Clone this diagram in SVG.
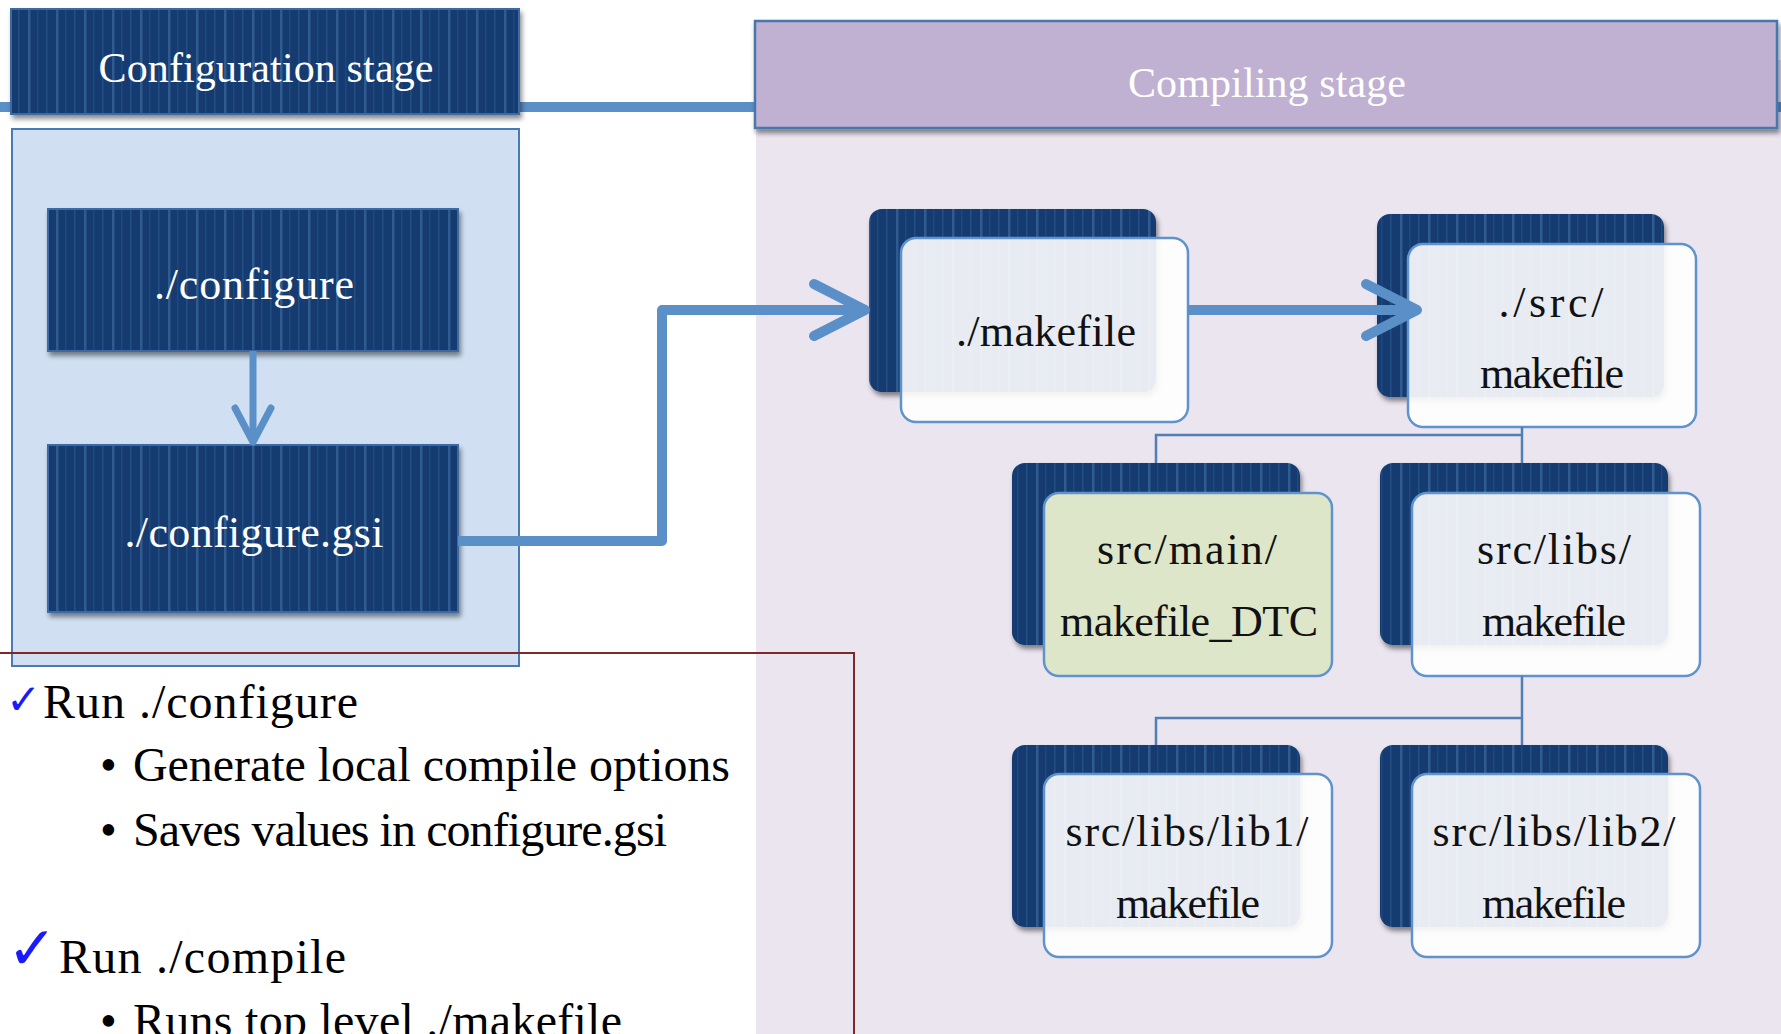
<svg xmlns="http://www.w3.org/2000/svg" width="1781" height="1034" viewBox="0 0 1781 1034">
  <style>
    .hdr { font-family: "Liberation Serif", "Times New Roman", serif; font-size: 42px; fill: #ffffff; text-anchor: middle; }
    .cfg { font-family: "Liberation Serif", "Times New Roman", serif; font-size: 44px; fill: #ffffff; text-anchor: middle; }
    .mk { font-family: "Liberation Serif", "Times New Roman", serif; font-size: 44px; fill: #111111; text-anchor: middle; }
    .note { font-family: "Liberation Serif", "Times New Roman", serif; font-size: 48px; fill: #000000; }
    .tick { font-family: "DejaVu Sans", sans-serif; fill: #1a1aff; }
    .navy { fill: url(#navyStripes); }
    .back { fill: url(#navyStripes); filter: url(#shadow); }
    .front { fill: #ffffff; fill-opacity: 0.9; stroke: #5f93cb; stroke-width: 2.5; }
    .frontGreen { fill: #dee6c9; stroke: #5f93cb; stroke-width: 2.5; }
    .tree { fill: none; stroke: #4f7fb5; stroke-width: 2.5; }
    .flow { fill: none; stroke: #5b8fc7; stroke-width: 10; stroke-linejoin: round; }
  </style>
  <defs>
    <pattern id="navyStripes" patternUnits="userSpaceOnUse" width="28" height="10">
      <rect width="28" height="10" fill="#123a6f"/>
      <rect x="0" width="2.5" height="10" fill="#2f5b90"/>
      <rect x="9" width="1.5" height="10" fill="#1f4a80"/>
      <rect x="18" width="1.5" height="10" fill="#244f84"/>
    </pattern>
    <filter id="shadow" x="-10%" y="-10%" width="125%" height="130%">
      <feDropShadow dx="2" dy="4" stdDeviation="2.5" flood-color="#000000" flood-opacity="0.45"/>
    </filter>
    <marker id="chev" viewBox="-8 -8 70 72" refX="51" refY="28" markerWidth="70" markerHeight="72" markerUnits="userSpaceOnUse" orient="auto">
      <path d="M0,2 L51,28 L0,54" fill="none" stroke="#5b8fc7" stroke-width="10" stroke-linecap="round" stroke-linejoin="round"/>
    </marker>
    <marker id="chevSmall" viewBox="-6 -6 46 52" refX="34" refY="20" markerWidth="46" markerHeight="52" markerUnits="userSpaceOnUse" orient="auto">
      <path d="M0,2 L34,20 L0,38" fill="none" stroke="#5b8fc7" stroke-width="7" stroke-linecap="round" stroke-linejoin="round"/>
    </marker>
  </defs>

  <!-- page background and stage areas -->
  <rect width="1781" height="1034" fill="#ffffff"/>
  <rect x="756" y="60" width="1025" height="974" fill="#ebe5f0"/>
  <line x1="0" y1="107" x2="1781" y2="107" stroke="#5b8fc7" stroke-width="10"/>

  <g id="config-area">
    <rect x="12" y="129" width="507" height="537" fill="#d0e0f2" stroke="#4a7ab2" stroke-width="2"/>
  </g>

  <g id="config-stage-header">
    <rect x="11" y="9" width="508" height="105" class="navy" stroke="#3d6aa2" stroke-width="2" filter="url(#shadow)"/>
    <text x="266" y="82" class="hdr" textLength="335" lengthAdjust="spacing">Configuration stage</text>
  </g>

  <g id="compiling-stage-header">
    <rect x="755" y="21" width="1022" height="107" fill="#c0b1d3" stroke="#4677ab" stroke-width="2.5" filter="url(#shadow)"/>
    <text x="1267" y="97" class="hdr" textLength="278" lengthAdjust="spacing">Compiling stage</text>
  </g>

  <!-- notes -->
  <g id="notes">
    <path d="M0,653 H854 V1034" fill="none" stroke="#7b2a2a" stroke-width="2"/>
    <text x="6" y="714" class="tick" font-size="42">✓</text>
    <text x="43" y="718" class="note" textLength="315" lengthAdjust="spacing">Run ./configure</text>
    <text x="100" y="781" class="note">•</text>
    <text x="133" y="781" class="note" textLength="597" lengthAdjust="spacing">Generate local compile options</text>
    <text x="100" y="846" class="note">•</text>
    <text x="133" y="846" class="note" textLength="534" lengthAdjust="spacing">Saves values in configure.gsi</text>
    <text x="7" y="969" class="tick" font-size="60">✓</text>
    <text x="59" y="973" class="note" textLength="287" lengthAdjust="spacing">Run ./compile</text>
    <text x="100" y="1037" class="note">•</text>
    <text x="133" y="1037" class="note" textLength="489" lengthAdjust="spacing">Runs top level ./makefile</text>
  </g>

  <!-- configuration nodes -->
  <g id="node-configure">
    <rect x="48" y="209" width="410" height="142" class="navy" stroke="#3d6aa2" stroke-width="2" filter="url(#shadow)"/>
    <text x="254" y="299" class="cfg" textLength="200" lengthAdjust="spacing">./configure</text>
  </g>
  <g id="node-configure-gsi">
    <rect x="48" y="445" width="410" height="167" class="navy" stroke="#3d6aa2" stroke-width="2" filter="url(#shadow)"/>
    <text x="254" y="547" class="cfg" textLength="259" lengthAdjust="spacing">./configure.gsi</text>
  </g>

  <!-- compiling nodes -->
  <g id="node-makefile">
    <rect x="869" y="209" width="287" height="183" rx="13" class="back"/>
    <rect x="901" y="238" width="287" height="184" rx="15" class="front"/>
    <text x="1046" y="346" class="mk" textLength="180" lengthAdjust="spacing">./makefile</text>
  </g>
  <g id="node-src-makefile">
    <rect x="1377" y="214" width="287" height="183" rx="13" class="back"/>
    <rect x="1408" y="244" width="288" height="183" rx="15" class="front"/>
    <text x="1551" y="317" class="mk" textLength="105" lengthAdjust="spacing">./src/</text>
    <text x="1552" y="388" class="mk" textLength="144" lengthAdjust="spacing">makefile</text>
  </g>
  <g id="node-main-makefile-dtc">
    <rect x="1012" y="463" width="288" height="182" rx="13" class="back"/>
    <rect x="1044" y="493" width="288" height="183" rx="15" class="frontGreen"/>
    <text x="1187" y="564" class="mk" textLength="180" lengthAdjust="spacing">src/main/</text>
    <text x="1189" y="636" class="mk" textLength="258" lengthAdjust="spacing">makefile_DTC</text>
  </g>
  <g id="node-libs-makefile">
    <rect x="1380" y="463" width="288" height="182" rx="13" class="back"/>
    <rect x="1412" y="493" width="288" height="183" rx="15" class="front"/>
    <text x="1554" y="564" class="mk" textLength="154" lengthAdjust="spacing">src/libs/</text>
    <text x="1554" y="636" class="mk" textLength="144" lengthAdjust="spacing">makefile</text>
  </g>
  <g id="node-lib1-makefile">
    <rect x="1012" y="745" width="288" height="182" rx="13" class="back"/>
    <rect x="1044" y="774" width="288" height="183" rx="15" class="front"/>
    <text x="1187" y="846" class="mk" textLength="243" lengthAdjust="spacing">src/libs/lib1/</text>
    <text x="1188" y="918" class="mk" textLength="144" lengthAdjust="spacing">makefile</text>
  </g>
  <g id="node-lib2-makefile">
    <rect x="1380" y="745" width="288" height="182" rx="13" class="back"/>
    <rect x="1412" y="774" width="288" height="183" rx="15" class="front"/>
    <text x="1554" y="846" class="mk" textLength="243" lengthAdjust="spacing">src/libs/lib2/</text>
    <text x="1554" y="918" class="mk" textLength="144" lengthAdjust="spacing">makefile</text>
  </g>

  <!-- connectors -->
  <g id="connectors">
    <path d="M1522,427 V435 H1156 V463 M1522,435 V463" class="tree"/>
    <path d="M1522,676 V718 H1156 V745 M1522,718 V745" class="tree"/>
    <path d="M253,351 V442" fill="none" stroke="#5b8fc7" stroke-width="7" marker-end="url(#chevSmall)"/>
    <path d="M458,541 H662 V310 H865" class="flow" marker-end="url(#chev)"/>
    <path d="M1188,310 H1417" class="flow" marker-end="url(#chev)"/>
  </g>
</svg>
